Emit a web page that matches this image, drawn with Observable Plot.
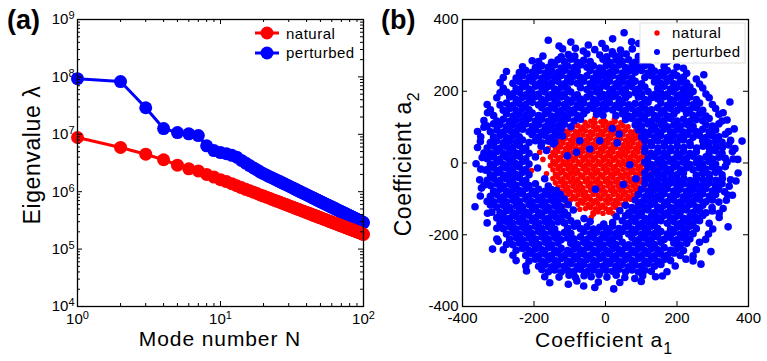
<!DOCTYPE html>
<html><head><meta charset="utf-8">
<script src="https://cdn.jsdelivr.net/npm/d3@7"></script>
<script src="https://cdn.jsdelivr.net/npm/@observablehq/plot@0.6"></script>
<style>
body{margin:0;background:#fff;}
#wrap{position:relative;width:767px;height:361px;overflow:hidden;font-family:"Liberation Sans",Arial,sans-serif;}
#wrap svg{position:absolute;top:0;}
</style></head><body><div id="wrap"></div>
<script>
// ---------- Panel (a) data ----------
const naturalEigen = [
8.8e6,5.9e6,4.5e6,3.6e6,2.9e6,2.5e6,2.3e6,2.0e6,1.8e6,1.62e6,
1.50e6,1.38e6,1.27e6,1.18e6,1.10e6,1.04e6,9.8e5,9.3e5,8.8e5,8.4e5,
8.0e5,7.7e5,7.35e5,7.05e5,6.8e5,6.55e5,6.3e5,6.1e5,5.9e5,5.7e5,
5.53e5,5.37e5,5.22e5,5.07e5,4.93e5,4.8e5,4.68e5,4.56e5,4.45e5,4.34e5,
4.24e5,4.15e5,4.05e5,3.96e5,3.88e5,3.8e5,3.72e5,3.65e5,3.58e5,3.51e5,
3.45e5,3.38e5,3.32e5,3.26e5,3.21e5,3.15e5,3.10e5,3.05e5,3.0e5,2.95e5,
2.91e5,2.86e5,2.82e5,2.78e5,2.74e5,2.70e5,2.66e5,2.62e5,2.59e5,2.55e5,
2.52e5,2.48e5,2.45e5,2.42e5,2.39e5,2.36e5,2.33e5,2.30e5,2.27e5,2.25e5,
2.22e5,2.20e5,2.17e5,2.15e5,2.12e5,2.10e5,2.08e5,2.05e5,2.03e5,2.01e5,
1.99e5,1.97e5,1.95e5,1.93e5,1.91e5,1.89e5,1.87e5,1.85e5,1.83e5,1.80e5];
const perturbedEigen = [
9.3e7,8.3e7,2.9e7,1.26e7,1.07e7,1.02e7,9.5e6,6.3e6,5.2e6,4.8e6,
4.6e6,4.3e6,4.0e6,3.5e6,3.15e6,2.85e6,2.6e6,2.4e6,2.2e6,2.06e6,
1.94e6,1.83e6,1.74e6,1.65e6,1.57e6,1.50e6,1.43e6,1.37e6,1.31e6,1.26e6,
1.21e6,1.16e6,1.12e6,1.08e6,1.04e6,1.006e6,9.73e5,9.42e5,9.12e5,8.84e5,
8.58e5,8.34e5,8.10e5,7.87e5,7.66e5,7.46e5,7.27e5,7.08e5,6.91e5,6.74e5,
6.58e5,6.42e5,6.28e5,6.13e5,6.0e5,5.87e5,5.74e5,5.62e5,5.50e5,5.39e5,
5.28e5,5.18e5,5.08e5,4.98e5,4.89e5,4.80e5,4.71e5,4.63e5,4.55e5,4.47e5,
4.39e5,4.32e5,4.25e5,4.18e5,4.11e5,4.04e5,3.98e5,3.92e5,3.86e5,3.80e5,
3.74e5,3.68e5,3.63e5,3.58e5,3.53e5,3.48e5,3.43e5,3.38e5,3.33e5,3.29e5,
3.25e5,3.20e5,3.16e5,3.12e5,3.08e5,3.04e5,3.00e5,2.96e5,2.93e5,2.89e5];
const modeNumbers = naturalEigen.map((_, i) => i + 1);
const xTicksA = [1, 10, 100];
const yTicksA = [1e4, 1e5, 1e6, 1e7, 1e8, 1e9];
const xTickLabelsA = ["10^0", "10^1", "10^2"];
const yTickLabelsA = ["10^4", "10^5", "10^6", "10^7", "10^8", "10^9"];

// ---------- Panel (b) data: [a1, a2] ----------
const perturbedPoints = [
[52,363],[-160,342],[20,346],[73,338],
[-130,326],[-97,337],[-48,329],[-10,333],[93,333],
[-120,318],[-84,320],[-62,312],[-30,316],[0,320],[19,310],[42,315],[75,318],
[-175,298],[-124,296],[-104,302],[-86,298],[-52,304],[-16,301],[4,296],[22,303],[40,298],[58,304],[92,297],
[-205,285],[-187,283],[-151,281],[-133,288],[-115,283],[-97,289],[-79,281],[-61,286],[-43,283],[-7,289],[11,281],[29,287],[47,283],[65,288],[83,281],[101,286],[119,282],[173,283],
[-232,268],[-196,266],[-178,271],[-160,267],[-142,273],[-124,265],[-106,270],[-88,266],[-70,273],[-52,267],[-34,271],[-16,265],[2,272],[20,268],[38,273],[56,266],[74,270],[92,267],[110,272],[128,266],[164,270],[200,268],[218,264],
[-277,255],[-241,252],[-223,258],[-205,253],[-187,257],[-169,251],[-151,256],[-133,252],[-115,258],[-97,251],[-79,256],[-43,258],[-25,251],[-7,255],[11,252],[29,257],[47,251],[65,256],[83,253],[101,258],[119,251],[137,256],[155,252],[173,258],[191,251],[227,250],
[-286,238],[-250,237],[-232,243],[-214,238],[-196,242],[-178,236],[-160,241],[-142,238],[-124,244],[-106,237],[-88,242],[-70,238],[-52,243],[-34,236],[-16,241],[2,238],[20,243],[38,237],[56,242],[74,236],[110,238],[128,243],[146,237],[164,242],[182,238],[200,243],[218,239],[254,234],
[-295,224],[-259,222],[-241,227],[-223,223],[-205,228],[-187,221],[-169,226],[-151,223],[-133,228],[-115,221],[-97,226],[-79,222],[-61,228],[-43,221],[-25,226],[-7,223],[11,228],[29,221],[47,226],[65,223],[83,228],[101,221],[137,226],[155,222],[173,228],[191,221],[209,226],[227,223],[263,220],[275,246],
[-286,208],[-250,207],[-232,212],[-214,206],[-196,214],[-178,209],[-160,213],[-142,206],[-124,211],[-106,207],[-70,210],[-52,205],[-34,212],[-16,208],[2,214],[20,206],[38,211],[56,207],[74,213],[92,206],[110,212],[146,208],[164,214],[182,206],[200,211],[218,207],[236,212],[272,209],
[-295,196],[-277,198],[-259,193],[-241,197],[-223,190],[-205,196],[-187,192],[-169,198],[-151,191],[-133,195],[-115,192],[-97,198],[-79,190],[-43,193],[-25,198],[-7,191],[11,196],[29,192],[47,197],[65,190],[83,196],[101,193],[119,199],[137,191],[155,196],[173,192],[191,198],[209,190],[227,195],[245,199],[281,192],
[-304,182],[-268,184],[-250,177],[-232,183],[-214,179],[-196,185],[-178,177],[-160,182],[-142,178],[-124,184],[-106,176],[-88,181],[-70,178],[-52,184],[-34,177],[-16,182],[2,179],[20,185],[38,177],[56,182],[92,184],[110,177],[128,182],[146,179],[164,185],[182,177],[200,182],[218,178],[236,184],[254,177],[290,182],
[-331,163],[-295,162],[-277,167],[-259,161],[-241,166],[-223,163],[-205,169],[-187,162],[-169,167],[-151,161],[-133,166],[-115,163],[-97,169],[-79,162],[-61,167],[-43,161],[-25,166],[-7,163],[11,168],[29,161],[47,167],[65,162],[83,166],[101,163],[119,169],[155,167],[173,161],[191,166],[209,163],[227,168],[245,162],[263,167],[299,163],[348,170],
[-322,148],[-286,147],[-268,152],[-250,146],[-232,151],[-214,148],[-178,154],[-160,147],[-142,152],[-124,146],[-106,151],[-88,148],[-70,154],[-52,147],[-34,152],[-16,146],[2,151],[20,148],[38,154],[56,147],[74,152],[92,146],[110,151],[128,148],[146,154],[164,147],[182,152],[200,146],[218,151],[236,148],[254,154],[272,147],[308,152],[329,140],
[-313,132],[-277,137],[-259,131],[-241,136],[-223,133],[-205,139],[-187,132],[-169,137],[-151,131],[-133,136],[-115,133],[-97,139],[-79,132],[-61,137],[-25,136],[-7,133],[29,132],[47,137],[65,131],[83,136],[101,133],[119,139],[137,132],[155,137],[173,131],[191,136],[227,139],[245,132],[263,137],[281,131],[317,136],
[-340,118],[-304,117],[-286,122],[-268,116],[-250,121],[-232,118],[-214,124],[-196,117],[-178,122],[-160,116],[-142,121],[-124,118],[-106,124],[-88,117],[-70,122],[56,121],[74,124],[92,117],[110,122],[128,116],[146,121],[164,118],[182,124],[200,117],[218,122],[236,116],[254,121],[272,118],[290,124],[326,117],
[-331,103],[-313,109],[-295,107],[-277,101],[-259,106],[-241,103],[-223,109],[-205,102],[-187,107],[-169,101],[-151,106],[-133,103],[-115,108],[-97,101],[83,106],[101,103],[119,109],[137,102],[155,107],[173,101],[191,106],[209,103],[227,108],[245,102],[281,106],[299,103],[317,109],[360,95],
[-358,88],[-322,87],[-304,92],[-286,86],[-268,91],[-250,88],[-232,94],[-214,87],[-196,92],[-178,86],[-160,91],[-142,88],[-124,94],[92,92],[110,86],[128,91],[146,88],[164,94],[182,87],[200,92],[218,86],[236,91],[254,88],[272,94],[290,87],[308,92],[344,88],
[-349,73],[-313,72],[-295,77],[-277,71],[-259,76],[-241,73],[-205,79],[-187,72],[-169,77],[-151,71],[-133,76],[101,73],[119,78],[137,72],[155,77],[173,71],[191,76],[209,73],[227,79],[245,72],[263,77],[281,71],[299,76],[317,73],[335,80],
[-322,57],[-304,62],[-286,56],[-268,61],[-250,58],[-232,64],[-214,57],[-196,62],[-178,56],[-160,61],[-142,58],[110,63],[128,57],[146,62],[164,56],[182,61],[200,58],[218,64],[236,57],[272,62],[290,56],[308,61],[326,58],[350,63],[382,61],
[-358,43],[-331,42],[-313,47],[-295,41],[-277,46],[-259,43],[-241,49],[-223,42],[-180,47],[111,43],[129,48],[147,42],[165,47],[183,41],[201,46],[219,43],[237,49],[255,42],[273,47],[291,41],[309,46],[327,43],[345,50],
[-340,28],[-322,27],[-304,32],[-286,26],[-268,31],[-250,28],[-232,34],[-214,27],[-165,35],[110,32],[128,26],[146,31],[164,28],[182,34],[200,27],[218,32],[236,26],[254,31],[290,28],[308,34],[326,27],[355,32],
[-331,12],[-313,17],[-295,11],[-277,16],[-259,13],[-241,19],[-223,12],[-196,17],[119,13],[137,18],[155,12],[173,17],[191,11],[209,16],[227,13],[245,19],[263,12],[281,17],[299,11],[317,16],[335,13],[357,11],
[-362,-2],[-322,-3],[-304,2],[-286,-4],[-268,1],[-250,-2],[-232,4],[-214,-3],[110,2],[128,-4],[146,1],[164,-2],[182,4],[200,-3],[218,2],[236,-4],[254,1],[272,-2],[290,4],[308,-3],[340,2],
[-349,-17],[-331,-18],[-313,-13],[-295,-19],[-277,-14],[-259,-17],[-241,-11],[-223,-18],[-190,-14],[119,-13],[137,-19],[155,-14],[173,-17],[191,-11],[209,-18],[227,-13],[245,-19],[263,-14],[281,-17],[299,-11],[317,-18],[335,-10],
[-322,-33],[-304,-28],[-286,-34],[-268,-29],[-250,-32],[-232,-26],[-214,-33],[110,-28],[128,-34],[146,-29],[164,-32],[182,-26],[200,-33],[218,-28],[254,-34],[272,-29],[290,-32],[308,-26],[326,-33],[371,-28],
[-352,-47],[-331,-48],[-313,-43],[-295,-49],[-277,-44],[-259,-47],[-241,-41],[-223,-48],[-170,-44],[111,-43],[129,-49],[147,-44],[165,-47],[183,-41],[201,-48],[219,-43],[237,-49],[255,-44],[273,-47],[291,-41],[309,-48],[327,-43],[350,-47],
[-340,-62],[-322,-63],[-304,-58],[-286,-64],[-268,-59],[-250,-62],[-232,-56],[-214,-63],[-196,-58],[-160,-64],[110,-58],[128,-64],[146,-59],[164,-62],[182,-56],[200,-63],[218,-58],[236,-64],[254,-59],[272,-62],[290,-56],[308,-63],[326,-58],[346,-65],
[-313,-78],[-295,-73],[-277,-79],[-259,-74],[-241,-77],[-223,-71],[-205,-78],[-187,-73],[-169,-79],[-151,-74],[-137,-77],[101,-73],[119,-79],[137,-74],[155,-77],[173,-71],[191,-78],[209,-73],[227,-79],[245,-74],[263,-77],[281,-71],[299,-78],[317,-73],[333,-80],
[-350,-92],[-322,-93],[-304,-88],[-286,-94],[-268,-89],[-250,-92],[-232,-86],[-214,-93],[-196,-88],[-178,-94],[-160,-89],[-142,-92],[-126,-88],[92,-88],[110,-94],[128,-89],[146,-92],[164,-86],[182,-93],[200,-88],[218,-94],[236,-89],[254,-92],[272,-86],[290,-93],[308,-88],[342,-89],
[-331,-107],[-313,-108],[-295,-103],[-277,-109],[-259,-104],[-241,-107],[-223,-101],[-205,-108],[-187,-103],[-169,-109],[-151,-104],[-133,-107],[-115,-101],[83,-103],[101,-109],[119,-104],[137,-107],[155,-101],[173,-108],[191,-103],[209,-109],[227,-104],[245,-107],[263,-101],[281,-108],[299,-103],[317,-109],[338,-104],
[-365,-122],[-322,-117],[-304,-123],[-286,-118],[-268,-124],[-250,-119],[-232,-122],[-214,-116],[-196,-123],[-178,-118],[-160,-124],[-142,-119],[-124,-122],[-104,-116],[56,-118],[74,-124],[92,-119],[110,-122],[128,-116],[146,-123],[164,-118],[182,-124],[200,-119],[218,-122],[236,-116],[254,-123],[272,-118],[298,-124],[329,-127],
[-318,-137],[-295,-138],[-277,-133],[-259,-139],[-241,-134],[-223,-137],[-205,-131],[-187,-138],[-169,-133],[-151,-139],[-133,-134],[-115,-137],[-90,-131],[40,-133],[65,-139],[83,-134],[101,-137],[119,-131],[137,-138],[155,-133],[173,-139],[191,-134],[209,-137],[227,-131],[245,-138],[263,-133],[281,-139],[299,-134],
[-304,-153],[-286,-148],[-268,-154],[-250,-149],[-232,-152],[-214,-146],[-196,-153],[-178,-148],[-160,-154],[-142,-149],[-124,-152],[-106,-146],[-60,-155],[30,-150],[56,-147],[74,-153],[92,-148],[110,-154],[128,-149],[146,-152],[164,-146],[182,-153],[200,-148],[218,-154],[236,-149],[254,-152],[272,-146],[318,-152],
[-331,-167],[-295,-168],[-277,-163],[-259,-169],[-241,-164],[-223,-167],[-205,-161],[-187,-168],[-169,-163],[-151,-169],[-133,-164],[-115,-167],[-97,-161],[-79,-168],[-43,-163],[-5,-170],[20,-166],[47,-161],[65,-168],[83,-163],[101,-169],[119,-164],[137,-167],[155,-161],[173,-168],[191,-163],[209,-169],[227,-164],[245,-167],[263,-161],[290,-168],[343,-178],
[-304,-182],[-286,-183],[-268,-178],[-250,-184],[-232,-179],[-214,-182],[-196,-176],[-178,-183],[-160,-178],[-142,-184],[-106,-182],[-88,-176],[-70,-183],[-52,-178],[-34,-184],[-16,-179],[2,-182],[20,-176],[38,-183],[56,-178],[74,-184],[92,-179],[110,-182],[128,-176],[146,-183],[182,-184],[200,-179],[218,-182],[236,-176],[254,-183],[300,-184],
[-277,-198],[-259,-193],[-241,-199],[-223,-194],[-205,-197],[-187,-191],[-169,-198],[-151,-193],[-133,-199],[-115,-194],[-97,-197],[-61,-191],[-43,-198],[-25,-193],[-7,-199],[11,-194],[29,-197],[47,-191],[65,-198],[83,-193],[101,-199],[119,-194],[137,-197],[155,-191],[173,-198],[191,-193],[209,-199],[227,-194],[245,-197],[288,-198],
[-304,-212],[-268,-213],[-250,-208],[-232,-214],[-214,-209],[-196,-212],[-178,-206],[-160,-213],[-142,-208],[-124,-214],[-106,-209],[-88,-212],[-70,-206],[-52,-213],[-34,-208],[-16,-214],[2,-209],[20,-212],[38,-206],[74,-208],[92,-214],[110,-209],[128,-212],[146,-206],[164,-213],[182,-208],[200,-214],[218,-209],[236,-212],[280,-213],
[-277,-227],[-259,-228],[-241,-223],[-223,-229],[-205,-224],[-187,-227],[-169,-221],[-151,-228],[-133,-223],[-97,-224],[-79,-227],[-61,-221],[-43,-228],[-25,-223],[-7,-229],[11,-224],[29,-227],[47,-221],[65,-228],[83,-223],[101,-229],[119,-224],[137,-227],[155,-221],[191,-223],[209,-229],[227,-224],[263,-221],
[-316,-240],[-286,-242],[-250,-243],[-232,-238],[-214,-244],[-196,-239],[-178,-242],[-160,-236],[-142,-243],[-124,-238],[-106,-244],[-88,-239],[-70,-242],[-52,-236],[-34,-243],[-16,-238],[2,-244],[20,-239],[38,-242],[56,-236],[74,-243],[92,-238],[110,-244],[128,-239],[146,-242],[164,-236],[182,-243],[200,-238],[218,-244],[254,-242],[295,-247],
[-259,-257],[-223,-258],[-205,-253],[-187,-259],[-169,-254],[-151,-257],[-133,-251],[-115,-258],[-97,-253],[-79,-259],[-61,-254],[-43,-257],[-25,-251],[-7,-258],[11,-253],[29,-259],[47,-254],[65,-257],[83,-251],[101,-258],[119,-253],[137,-259],[155,-254],[173,-257],[191,-251],[209,-258],[245,-259],
[-250,-272],[-214,-273],[-196,-268],[-178,-274],[-160,-269],[-142,-272],[-124,-266],[-106,-273],[-88,-268],[-70,-274],[-52,-269],[-34,-272],[-16,-266],[2,-273],[20,-268],[38,-274],[56,-269],[74,-272],[92,-266],[110,-273],[128,-268],[146,-274],[164,-269],[182,-272],[225,-268],[245,-273],[267,-282],
[-223,-287],[-187,-288],[-169,-283],[-151,-289],[-133,-284],[-115,-287],[-97,-281],[-79,-288],[-61,-283],[-43,-289],[-25,-284],[-7,-287],[11,-281],[29,-288],[47,-283],[65,-289],[83,-284],[101,-287],[119,-281],[137,-288],[155,-283],[195,-287],
[-221,-301],[-178,-297],[-160,-303],[-142,-298],[-124,-304],[-106,-299],[-88,-302],[-70,-296],[-52,-303],[-34,-298],[-16,-304],[2,-299],[20,-302],[38,-296],[56,-303],[74,-298],[92,-304],[110,-299],[128,-302],[172,-303],
[-170,-317],[-130,-318],[-102,-313],[-84,-319],[-60,-314],[-40,-317],[-18,-311],[4,-318],[30,-313],[54,-319],[82,-322],[104,-314],[140,-317],[159,-315],
[-156,-334],[-104,-338],[-80,-329],[-61,-343],[-20,-332],[40,-333],[100,-330],
[23,-351],[-30,-347],
[-340,100],[-347,-70],[-335,-20],[-350,60],[365,-50],[362,40],[370,10],[340,120],[318,-140],[-300,-218],[-330,140],[-345,15],[-330,-140],[355,-90],[-290,-160],
[-107,20],[-81,30],[-44,39],[-16,62],[38,81],[68,-5],[-28,-73],[-72,62],[-146,53],[33,56],[85,-44],[19,96],[-120,75],[50,-60]
];
const naturalPoints = [
[-57,113],[-41,116],[-29,112],[-13,115],[1,114],[15,111],[27,116],[43,112],
[-91,101],[-77,104],[-63,100],[-49,103],[-35,102],[-21,99],[-7,104],[7,101],[21,103],[35,100],[49,104],[63,101],
[-112,89],[-98,92],[-84,88],[-70,91],[-56,90],[-42,87],[-28,92],[-14,89],[0,91],[14,88],[28,92],[42,89],[56,91],[70,87],[84,90],
[-119,77],[-105,80],[-91,76],[-77,79],[-63,78],[-49,75],[-35,80],[-21,77],[-7,79],[7,76],[21,80],[35,77],[49,79],[63,75],[77,78],[91,80],
[-126,65],[-112,68],[-98,64],[-84,67],[-70,66],[-56,63],[-42,68],[-28,65],[-14,67],[0,64],[14,68],[28,65],[42,67],[56,63],[70,66],[84,68],[98,65],
[-133,53],[-119,56],[-105,52],[-91,55],[-77,54],[-63,51],[-49,56],[-35,53],[-21,55],[-7,52],[7,56],[21,53],[35,55],[49,51],[63,54],[77,56],[91,53],[105,55],
[-140,41],[-126,44],[-112,40],[-98,43],[-84,42],[-70,39],[-56,44],[-42,41],[-28,43],[-14,40],[0,44],[14,41],[28,43],[42,39],[56,42],[70,44],[84,41],[98,43],[110,40],
[-147,29],[-133,32],[-119,28],[-105,31],[-91,30],[-77,27],[-63,32],[-49,29],[-35,31],[-21,28],[-7,32],[7,29],[21,31],[35,27],[49,30],[63,32],[77,29],[91,31],[105,28],
[-154,17],[-140,20],[-126,16],[-112,19],[-98,18],[-84,15],[-70,20],[-56,17],[-42,19],[-28,16],[-14,20],[0,17],[14,19],[28,15],[42,18],[56,20],[70,17],[84,19],[98,16],[112,18],
[-147,5],[-133,8],[-119,4],[-105,7],[-91,6],[-77,3],[-63,8],[-49,5],[-35,7],[-21,4],[-7,8],[7,5],[21,7],[35,3],[49,6],[63,8],[77,5],[91,7],[105,4],[119,6],
[-154,-7],[-140,-4],[-126,-8],[-112,-5],[-98,-6],[-84,-9],[-70,-4],[-56,-7],[-42,-5],[-28,-8],[-14,-4],[0,-7],[14,-5],[28,-9],[42,-6],[56,-4],[70,-7],[84,-5],[98,-8],[112,-6],[126,-4],
[-147,-19],[-133,-16],[-119,-20],[-105,-17],[-91,-18],[-77,-21],[-63,-16],[-49,-19],[-35,-17],[-21,-20],[-7,-16],[7,-19],[21,-17],[35,-21],[49,-18],[63,-16],[77,-19],[91,-17],[105,-20],[119,-18],
[-140,-31],[-126,-28],[-112,-32],[-98,-29],[-84,-30],[-70,-33],[-56,-28],[-42,-31],[-28,-29],[-14,-32],[0,-28],[14,-31],[28,-29],[42,-33],[56,-30],[70,-28],[84,-31],[98,-29],[112,-32],
[-147,-43],[-133,-40],[-119,-44],[-105,-41],[-91,-42],[-77,-45],[-63,-40],[-49,-43],[-35,-41],[-21,-44],[-7,-40],[7,-43],[21,-41],[35,-45],[49,-42],[63,-40],[77,-43],[91,-41],[105,-44],
[-140,-55],[-126,-52],[-112,-56],[-98,-53],[-84,-54],[-70,-57],[-56,-52],[-42,-55],[-28,-53],[-14,-56],[0,-52],[14,-55],[28,-53],[42,-57],[56,-54],[70,-52],[84,-55],[98,-53],[133,-49],
[-133,-67],[-119,-64],[-105,-68],[-91,-65],[-77,-66],[-63,-69],[-49,-64],[-35,-67],[-21,-65],[-7,-68],[7,-64],[21,-67],[35,-65],[49,-69],[63,-66],[77,-64],[91,-67],
[-126,-79],[-112,-76],[-98,-80],[-84,-77],[-70,-78],[-56,-81],[-42,-76],[-28,-79],[-14,-77],[0,-80],[14,-76],[28,-79],[42,-77],[56,-81],[70,-78],[84,-76],
[-119,-91],[-105,-88],[-91,-92],[-77,-89],[-63,-90],[-49,-93],[-35,-88],[-21,-91],[-7,-89],[7,-92],[21,-88],[35,-91],[49,-89],[63,-93],[77,-90],
[-98,-103],[-84,-100],[-70,-104],[-56,-101],[-42,-102],[-28,-105],[-14,-100],[0,-103],[14,-101],[28,-104],[42,-100],[56,-103],[70,-101],
[-77,-115],[-63,-112],[-49,-116],[-35,-113],[-21,-114],[-7,-117],[7,-112],[21,-115],[35,-113],[49,-116],
[-56,-127],[-42,-124],[-28,-128],[-14,-125],[0,-126],[14,-129],[28,-124],[40,-129],
[-35,-139],[-21,-136],[-7,-140],[9,-137],[21,-141],
[-184,30],[-207,-21],[-132,-110],[-72,-129],[-34,-143],[-40,-152],[-110,-118],[115,-7],[143,-3],[87,-82],[-160,40],[-175,10],[-165,-30],[-150,55],[120,60],[-120,-100],[60,-118],[-150,100],[-130,85],[125,30],[130,-30],[108,-70],[-5,120],[-30,125],[25,122]
];
const ticksB = [-400, -200, 0, 200, 400];
const tickLabelsB = ["-400", "-200", "0", "200", "400"];
const seriesNames = ["natural", "perturbed"];
const seriesColors = ["#ff0000", "#0000ff"];

// ---------- build ----------
const FONT = "Liberation Sans, Arial, Helvetica, sans-serif";
const wrap = document.getElementById("wrap");
const lineData = modeNumbers.flatMap((n, i) => [
  {N: n, v: naturalEigen[i], s: "natural"},
  {N: n, v: perturbedEigen[i], s: "perturbed"}
]);
const H = 361, mT = 19, mB = 55;
const innerH = H - mT - mB;
const minorX = [2,3,4,5,6,7,8,9,20,30,40,50,60,70,80,90];
const minorY = [];
for (const dec of [1e4,1e5,1e6,1e7,1e8]) for (let k = 2; k <= 9; k++) minorY.push(k*dec);

const wA = 380, mLA = 77, mRA = 17, innerWA = wA - mLA - mRA;
const chartA = Plot.plot({
  width: wA, height: H, marginTop: mT, marginBottom: mB, marginLeft: mLA, marginRight: mRA,
  style: {fontFamily: FONT, fontSize: "15px", background: "transparent", overflow: "visible", color: "#000"},
  x: {type: "log", domain: [1, 100], ticks: xTicksA, tickSize: 0, tickPadding: 7,
      tickFormat: d => xTickLabelsA[xTicksA.indexOf(d)], label: null},
  y: {type: "log", domain: [1e4, 1e9], ticks: yTicksA, tickSize: 0, tickPadding: 3,
      tickFormat: d => yTickLabelsA[yTicksA.indexOf(d)], label: null},
  marks: [
    Plot.line(lineData.filter(d => d.s === "perturbed"), {x: "N", y: "v", stroke: seriesColors[1], strokeWidth: 3}),
    Plot.dot(lineData.filter(d => d.s === "perturbed"), {x: "N", y: "v", r: 6.5, fill: seriesColors[1]}),
    Plot.line(lineData.filter(d => d.s === "natural"), {x: "N", y: "v", stroke: seriesColors[0], strokeWidth: 3}),
    Plot.dot(lineData.filter(d => d.s === "natural"), {x: "N", y: "v", r: 6.5, fill: seriesColors[0]}),
    Plot.ruleX(xTicksA, {insetTop: innerH - 5, stroke: "#000"}),
    Plot.ruleX(xTicksA, {insetBottom: innerH - 5, stroke: "#000"}),
    Plot.ruleX(minorX, {insetTop: innerH - 3, stroke: "#000"}),
    Plot.ruleX(minorX, {insetBottom: innerH - 3, stroke: "#000"}),
    Plot.ruleY(yTicksA, {insetRight: innerWA - 5, stroke: "#000"}),
    Plot.ruleY(yTicksA, {insetLeft: innerWA - 5, stroke: "#000"}),
    Plot.ruleY(minorY, {insetRight: innerWA - 3, stroke: "#000"}),
    Plot.ruleY(minorY, {insetLeft: innerWA - 3, stroke: "#000"}),
    Plot.frame({stroke: "#000", strokeWidth: 1.3})
  ]
});
chartA.style.left = "0px";
wrap.appendChild(chartA);

const wB = 387, mLB = 82, mRB = 19, innerWB = wB - mLB - mRB;
const chartB = Plot.plot({
  width: wB, height: H, marginTop: mT, marginBottom: mB, marginLeft: mLB, marginRight: mRB,
  style: {fontFamily: FONT, fontSize: "15px", background: "transparent", overflow: "visible", color: "#000"},
  x: {domain: [-400, 400], ticks: ticksB, tickSize: 0, tickPadding: 6,
      tickFormat: d => tickLabelsB[ticksB.indexOf(d)], label: null},
  y: {domain: [-400, 400], ticks: ticksB, tickSize: 0, tickPadding: 4,
      tickFormat: d => tickLabelsB[ticksB.indexOf(d)], label: null},
  marks: [
    Plot.dot(naturalPoints, {x: d => d[0], y: d => d[1], r: 2.8, fill: seriesColors[0]}),
    Plot.dot(perturbedPoints, {x: d => d[0], y: d => d[1], r: 3.8, fill: seriesColors[1]}),
    Plot.ruleX(ticksB, {insetTop: innerH - 5, stroke: "#000"}),
    Plot.ruleX(ticksB, {insetBottom: innerH - 5, stroke: "#000"}),
    Plot.ruleY(ticksB, {insetRight: innerWB - 5, stroke: "#000"}),
    Plot.ruleY(ticksB, {insetLeft: innerWB - 5, stroke: "#000"}),
    Plot.frame({stroke: "#000", strokeWidth: 1.3})
  ]
});
chartB.style.left = "380px";
wrap.appendChild(chartB);

// superscripts for log tick labels
const NS = "http://www.w3.org/2000/svg";
chartA.querySelectorAll("text").forEach(t => {
  const m = /^10\^(-?\d+)$/.exec(t.textContent.trim());
  if (!m) return;
  t.textContent = "";
  const base = document.createElementNS(NS, "tspan"); base.textContent = "10";
  const sup = document.createElementNS(NS, "tspan"); sup.textContent = m[1];
  sup.setAttribute("dy", "-5"); sup.setAttribute("font-size", "11");
  t.append(base, sup);
});
// nudge the bottom y tick label of (b) up slightly, as in the reference
chartB.querySelectorAll('g[aria-label="y-axis tick label"] text').forEach(t => {
  if (t.textContent.trim() === "-400") t.setAttribute("dy", "-0.05em");
});

// overlay: titles, panel letters, legends
const ov = d3.select(wrap).append("svg").attr("width", 767).attr("height", 361)
  .style("left", "0px").style("font-family", FONT);
ov.append("text").attr("x", 7).attr("y", 29).attr("font-size", 27).attr("font-weight", "bold").text("(a)");
ov.append("text").attr("x", 381).attr("y", 29).attr("font-size", 27).attr("font-weight", "bold").text("(b)");
ov.append("text").attr("x", 220).attr("y", 346).attr("text-anchor", "middle").attr("font-size", 21).attr("letter-spacing", 0.9).text("Mode number N");
ov.append("text").attr("transform", "translate(40,155) rotate(-90)").attr("text-anchor", "middle").attr("font-size", 23).attr("letter-spacing", 0.6).text("Eigenvalue λ");
const xb = ov.append("text").attr("x", 604).attr("y", 347).attr("text-anchor", "middle").attr("font-size", 21).attr("letter-spacing", 0.9);
xb.append("tspan").text("Coefficient a");
xb.append("tspan").attr("dy", 7).attr("font-size", 16).text("1");
const yb = ov.append("text").attr("transform", "translate(411,164) rotate(-90)").attr("text-anchor", "middle").attr("font-size", 23).attr("letter-spacing", 0.6);
yb.append("tspan").text("Coefficient a");
yb.append("tspan").attr("dy", 8).attr("font-size", 16).text("2");

// legend (a)
[[33, 39], [53, 58]].forEach(([ly, ty], i) => {
  ov.append("line").attr("x1", 255).attr("x2", 279).attr("y1", ly).attr("y2", ly).attr("stroke", seriesColors[i]).attr("stroke-width", 3);
  ov.append("circle").attr("cx", 267).attr("cy", ly).attr("r", 6.5).attr("fill", seriesColors[i]);
  ov.append("text").attr("x", 286).attr("y", ty).attr("font-size", 15).attr("letter-spacing", 0.5).text(seriesNames[i]);
});
// legend (b)
ov.append("rect").attr("x", 640).attr("y", 23).attr("width", 105).attr("height", 40).attr("fill", "#fff").attr("stroke", "#e0e0e0");
[[33, 38, 2.7], [52, 57, 3.0]].forEach(([ly, ty, r], i) => {
  ov.append("circle").attr("cx", 657).attr("cy", ly).attr("r", r).attr("fill", seriesColors[i]);
  ov.append("text").attr("x", 672).attr("y", ty).attr("font-size", 15).attr("letter-spacing", 0.5).text(seriesNames[i]);
});
</script></body></html>
